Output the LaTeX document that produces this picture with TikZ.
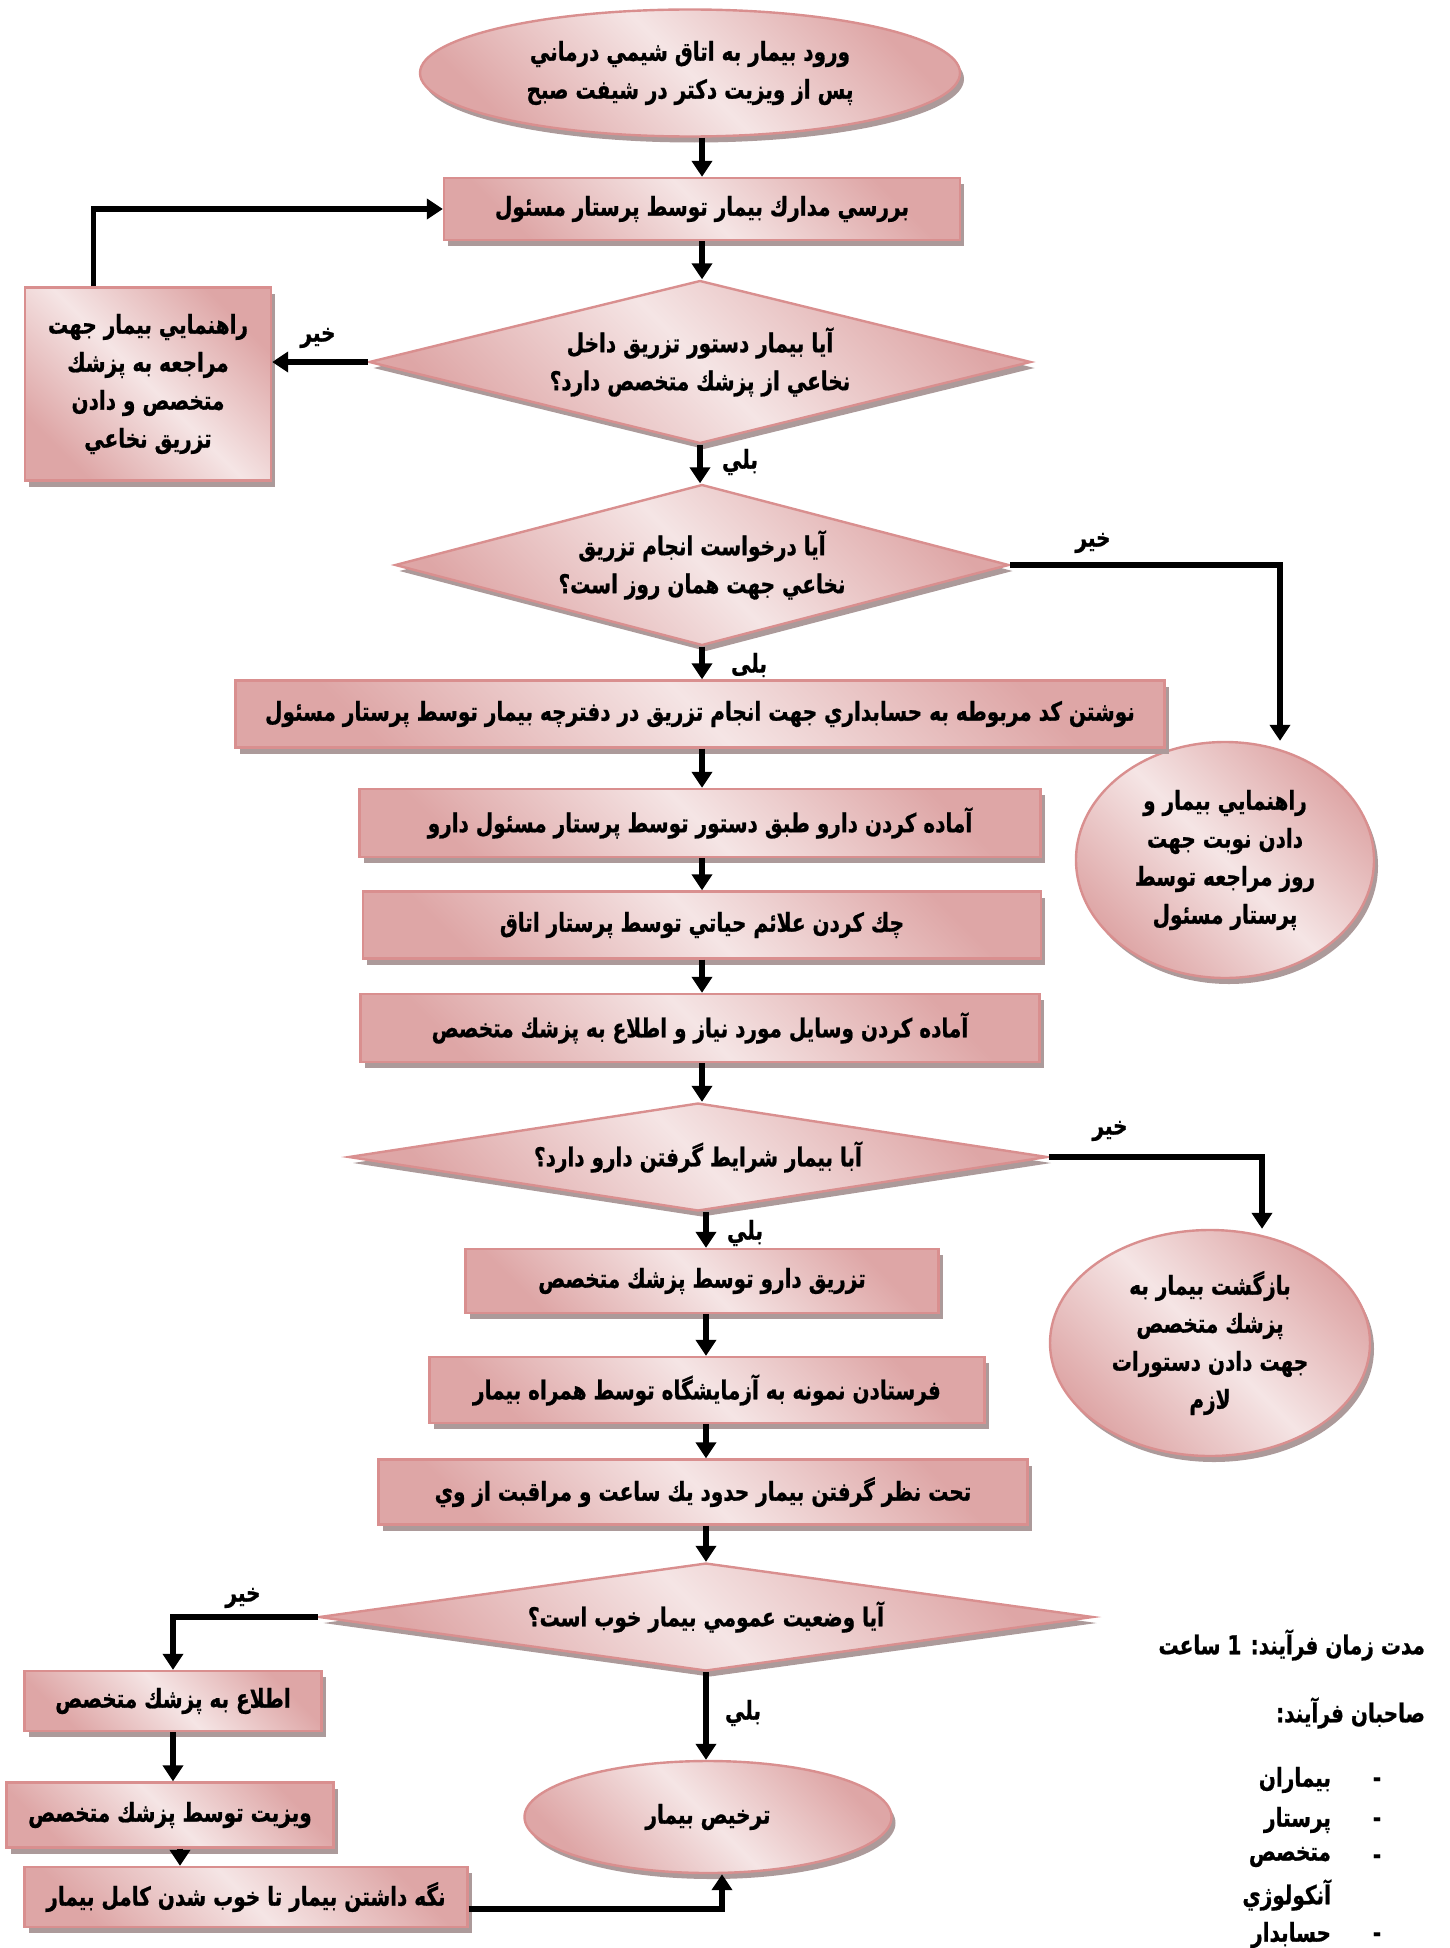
\documentclass[tikz,border=0pt]{standalone}
\usepackage{fontspec}
\usetikzlibrary{arrows.meta,shapes.geometric,shadows,calc}
\newfontfamily\arabicfont[Script=Arabic,FakeStretch=0.77,BoldFeatures={FakeBold=0.8}]{DejaVu Sans}
\TeXXeTstate=1
\newcommand{\rtxt}[1]{\beginR #1\endR}
\definecolor{pklight}{HTML}{F5E5E5}
\definecolor{pkdark}{HTML}{DEA6A6}
\definecolor{pkedge}{HTML}{D98F8F}
\definecolor{pkshadow}{HTML}{AC9A9A}

\begin{document}
\begin{tikzpicture}[
  x=0.5pt,y=-0.5pt,
  every node/.style={font=\arabicfont\bfseries\fontsize{13pt}{19pt}\selectfont},
  pink/.style={draw=pkedge,line width=1.2pt,top color=pkdark,bottom color=pkdark,middle color=pklight,shading angle=-45,
    drop shadow={shadow xshift=2pt,shadow yshift=-3pt,fill=pkshadow,opacity=1}},
  box/.style={pink,rectangle,inner sep=0pt,align=center},
  dia/.style={pink,diamond,inner sep=0pt,align=center},
  oval/.style={pink,ellipse,inner sep=0pt,align=center},
  arr/.style={-{Triangle[width=10pt,length=8pt]},line width=2.6pt},
  lbl/.style={inner sep=1pt}]
\useasboundingbox (0,0) rectangle (1450,1948);

% ---------- main column, top part ----------
\node[oval,minimum width=270pt,minimum height=63.5pt] (start) at (690,73)
  {\rtxt{ورود بيمار به اتاق شيمي درماني}\\ \rtxt{پس از ويزيت دكتر در شيفت صبح}};
\node[box,minimum width=258pt,minimum height=31pt] (check) at (702,209)
  {\rtxt{بررسي مدارك بيمار توسط پرستار مسئول}};
\node[dia,aspect=4,minimum width=331pt,minimum height=81.5pt] (q1) at (700,362)
  {\rtxt{آيا بيمار دستور تزريق داخل}\\ \rtxt{نخاعي از پزشك متخصص دارد؟}};
\node[box,minimum width=123pt,minimum height=96.5pt] (guide1) at (148,384)
  {\rtxt{راهنمايي بيمار جهت}\\ \rtxt{مراجعه به پزشك}\\ \rtxt{متخصص و دادن}\\ \rtxt{تزريق نخاعي}};
\node[dia,aspect=4,minimum width=307pt,minimum height=80.5pt] (q2) at (702,565)
  {\rtxt{آيا درخواست انجام تزريق}\\ \rtxt{نخاعي جهت همان روز است؟}};
\node[oval,minimum width=149pt,minimum height=118pt] (guide2) at (1225,860)
  {\rtxt{راهنمايي بيمار و}\\ \rtxt{دادن نوبت جهت}\\ \rtxt{روز مراجعه توسط}\\ \rtxt{پرستار مسئول}};

% ---------- main column, middle part ----------
\node[box,minimum width=464.5pt,minimum height=33.5pt] (code) at (700,714)
  {\rtxt{نوشتن كد مربوطه به حسابداري جهت انجام تزريق در دفترچه بيمار توسط پرستار مسئول}};
\node[box,minimum width=340.5pt,minimum height=34pt] (prep) at (700,823)
  {\rtxt{آماده كردن دارو طبق دستور توسط پرستار مسئول دارو}};
\node[box,minimum width=339pt,minimum height=33.5pt] (vital) at (702,925)
  {\rtxt{چك كردن علائم حياتي توسط پرستار اتاق}};
\node[box,minimum width=339.5pt,minimum height=34pt] (equip) at (700,1028)
  {\rtxt{آماده كردن وسايل مورد نياز و اطلاع به پزشك متخصص}};
\node[dia,aspect=6.5,minimum width=349.5pt,minimum height=54pt] (q3) at (698,1157)
  {\rtxt{آبا بيمار شرايط گرفتن دارو دارد؟}};
\node[oval,minimum width=160pt,minimum height=113pt] (back) at (1210,1343)
  {\rtxt{بازگشت بيمار به}\\ \rtxt{پزشك متخصص}\\ \rtxt{جهت دادن دستورات}\\ \rtxt{لازم}};
\node[box,minimum width=236.5pt,minimum height=32pt] (inject) at (702,1281)
  {\rtxt{تزريق دارو توسط پزشك متخصص}};
\node[box,minimum width=277.5pt,minimum height=33pt] (sample) at (707,1390)
  {\rtxt{فرستادن نمونه به آزمايشگاه توسط همراه بيمار}};
\node[box,minimum width=324.5pt,minimum height=32.5pt] (watch) at (703,1492)
  {\rtxt{تحت نظر گرفتن بيمار حدود يك ساعت و مراقبت از وي}};

% ---------- bottom part ----------
\node[dia,aspect=7,minimum width=387pt,minimum height=54pt] (q4) at (706,1617)
  {\rtxt{آيا وضعيت عمومي بيمار خوب است؟}};
\node[box,minimum width=148.5pt,minimum height=30pt] (inform) at (173,1701)
  {\rtxt{اطلاع به پزشك متخصص}};
\node[box,minimum width=163.5pt,minimum height=32.5pt] (visit) at (170,1815)
  {\rtxt{ويزيت توسط پزشك متخصص}};
\node[box,minimum width=221.5pt,minimum height=30pt] (keep) at (246,1897)
  {\rtxt{نگه داشتن بيمار تا خوب شدن كامل بيمار}};
\node[oval,minimum width=183.5pt,minimum height=56pt] (discharge) at (708,1817)
  {\rtxt{ترخيص بيمار}};

% ---------- yes / no labels ----------
\node[lbl] (no1) at (318,338) {\rtxt{خير}};
\node[lbl] (yes1) at (740,462) {\rtxt{بلي}};
\node[lbl] (no2) at (1093,543) {\rtxt{خير}};
\node[lbl] (yes2) at (749,665) {\rtxt{بلى}};
\node[lbl] (no3) at (1110,1131) {\rtxt{خير}};
\node[lbl] (yes3) at (745,1233) {\rtxt{بلي}};
\node[lbl] (no4) at (243,1598) {\rtxt{خير}};
\node[lbl] (yes4) at (743,1713) {\rtxt{بلي}};

% ---------- connectors ----------
\draw[arr] (start.south -| check.north) -- (check.north);
\draw[arr] (check.south) -- (check.south |- q1.north);
\draw[arr] (q1.west) -- (q1.west -| guide1.east);
\draw[arr] ($(guide1.north west)!0.28!(guide1.north east)$) |- (check.west);
\draw[arr] (q1.south) -- (q1.south |- q2.north);
\draw[arr] (q2.east) -| ([xshift=27.5pt]guide2.north);
\draw[arr] (q2.south) -- (q2.south |- code.north);
\draw[arr] (q2.south |- code.south) -- (q2.south |- prep.north);
\draw[arr] (q2.south |- prep.south) -- (q2.south |- vital.north);
\draw[arr] (q2.south |- vital.south) -- (q2.south |- equip.north);
\draw[arr] (q2.south |- equip.south) -- (q2.south |- q3.north);
\draw[arr] (q3.east) -| ([xshift=26pt]back.north);
\draw[arr] (q3.south -| q4.north) -- (q4.north |- inject.north);
\draw[arr] (q4.north |- inject.south) -- (q4.north |- sample.north);
\draw[arr] (q4.north |- sample.south) -- (q4.north |- watch.north);
\draw[arr] (q4.north |- watch.south) -- (q4.north);
\draw[arr] (q4.west) -| (inform.north);
\draw[arr] (q4.south) -- (q4.south |- discharge.north);
\draw[arr] (inform.south) -- (inform.south |- visit.north);
\draw[arr] ([xshift=5pt]visit.south) -- ([xshift=5pt]visit.south |- keep.north);
\draw[arr] ([yshift=-6pt]keep.east) -| ([xshift=7pt]discharge.south);

% ---------- process notes, bottom right ----------
\node[anchor=east] (dur) at (1432,1645) {\rtxt{مدت زمان  فرآيند: 1 ساعت}};
\node[anchor=east] (owners) at (1432,1713) {\rtxt{صاحبان فرآيند:}};
\node (d1) at (1377,1782) {-};
\node[anchor=east] (own1) at (1338,1780) {\rtxt{بيماران}};
\node (d2) at (1377,1822) {-};
\node[anchor=east] (own2) at (1338,1820) {\rtxt{پرستار}};
\node (d3) at (1377,1859) {-};
\node[anchor=east] (own3) at (1338,1857) {\rtxt{متخصص}};
\node[anchor=east] (own3b) at (1338,1895) {\rtxt{آنكولوژي}};
\node (d4) at (1377,1937) {-};
\node[anchor=east] (own4) at (1338,1935) {\rtxt{حسابدار}};
\end{tikzpicture}
\end{document}
